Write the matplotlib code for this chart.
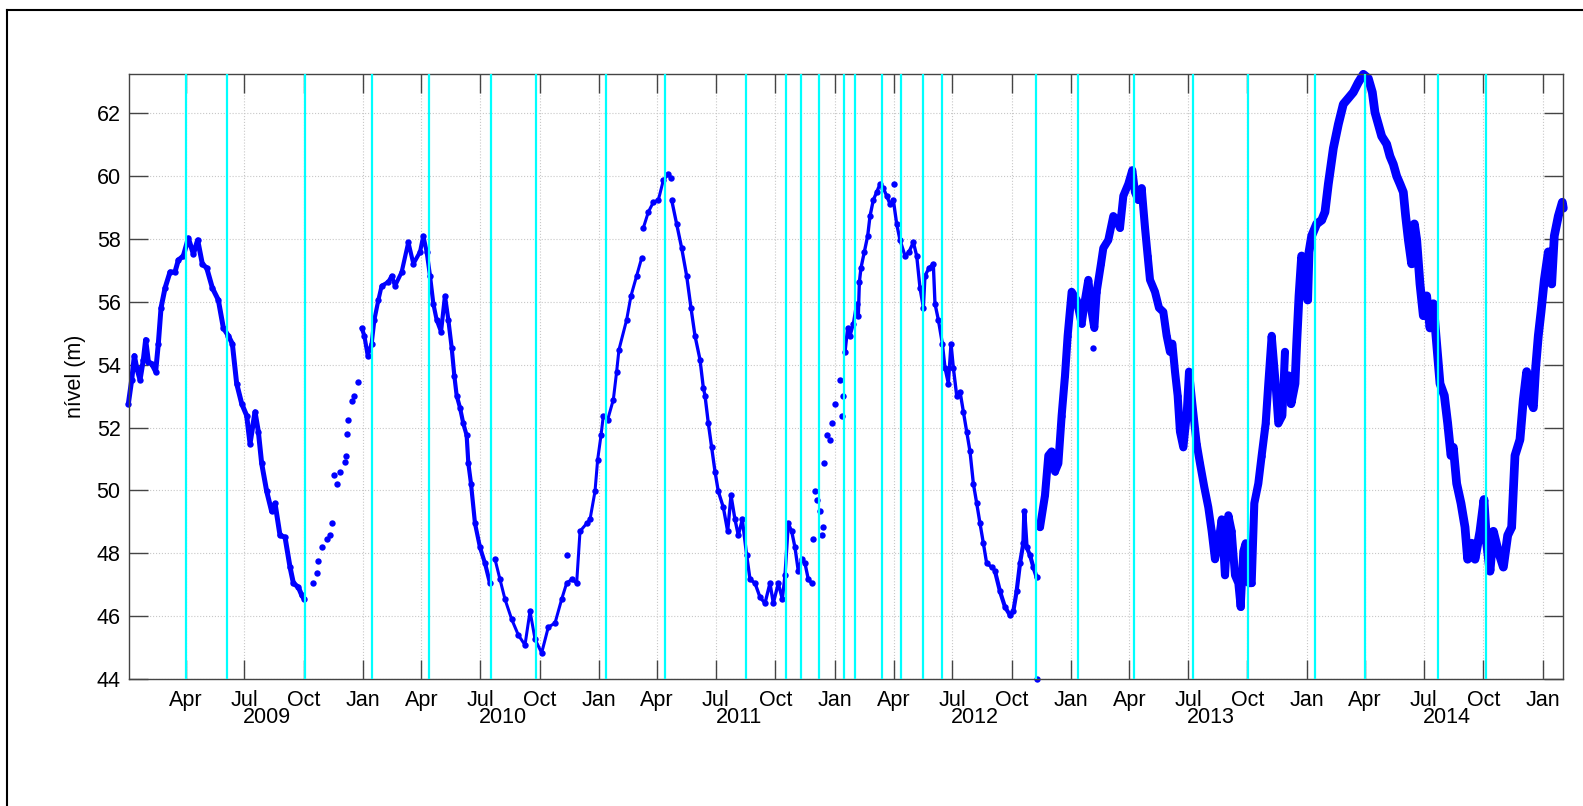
import matplotlib
matplotlib.use('Agg')
import matplotlib.pyplot as plt
import matplotlib.dates as mdates
import pandas as pd
from matplotlib.lines import Line2D

plt.rcParams['font.family'] = ['Liberation Sans', 'DejaVu Sans']

# dias contados a partir de 2009-01-01, nivel em metros
base = pd.Timestamp('2009-01-01')

d_2009a = [1.3, 6.5, 10.6, 14.2, 19.4, 24.5, 28.1, 32.3, 37.4, 43.6, 47.7, 51.9, 58.1, 65.8,
           73.5, 78.7, 86.4, 94.2, 102.0, 108.6, 115.9, 122.6, 131.4, 140.6, 148.4, 156.1,
           162.3, 169.0, 176.8, 184.5, 189.7, 197.4, 202.6, 207.7, 215.5, 223.2, 228.4,
           236.1, 243.9, 251.6, 256.8, 264.5, 269.7, 273.8]
n_2009a = [52.76, 53.52, 54.29, 53.90, 53.52, 54.16, 54.80, 54.10, 54.03, 53.78, 54.67, 55.81,
           56.44, 56.95, 56.95, 57.33, 57.46, 58.03, 57.52, 57.97, 57.20, 57.08, 56.44, 56.06,
           55.17, 54.92, 54.67, 53.40, 52.76, 52.38, 51.49, 52.50, 51.87, 50.86, 49.97, 49.33,
           49.59, 48.57, 48.51, 47.56, 47.05, 46.92, 46.67, 46.54]

d_2009b = [287.7, 292.9, 295.5, 300.6, 308.4, 313.5, 317.2, 320.3, 323.9, 329.0, 336.8, 338.0,
           339.3, 341.9, 347.1, 351.2, 356.4]
n_2009b = [47.05, 47.37, 47.75, 48.19, 48.44, 48.57, 48.95, 50.48, 50.22, 50.60, 50.92, 51.11,
           51.81, 52.25, 52.83, 53.02, 53.46]

d_2010a = [362.6, 366.7, 371.9, 378.0, 382.2, 388.4, 393.5, 403.8, 409.0, 414.2, 424.5, 434.8,
           442.6, 452.9, 458.0, 463.2, 468.3, 473.5, 478.6, 485.4, 491.5, 496.7, 501.9, 506.0,
           509.6, 514.8, 519.9, 525.1, 527.7, 531.8, 538.0, 545.7, 553.5, 561.2]
n_2010a = [55.17, 54.92, 54.29, 54.67, 55.43, 56.06, 56.51, 56.63, 56.83, 56.51, 56.95, 57.90,
           57.21, 57.59, 58.10, 57.59, 56.83, 55.94, 55.43, 55.05, 56.19, 55.43, 54.54, 53.65,
           53.02, 52.63, 52.13, 51.75, 50.86, 50.22, 48.95, 48.19, 47.68, 47.05]

d_2010b = [569.0, 576.7, 584.4, 594.8, 605.1, 615.4, 623.2, 630.9, 641.2, 651.5, 661.9, 672.2,
           679.9, 687.7, 695.4, 700.6, 710.9, 716.1, 723.8, 727.9, 733.1, 736.7, 743.4, 752.2,
           757.3, 760.9, 772.8, 779.5, 788.3, 796.1]
n_2010b = [47.81, 47.17, 46.54, 45.90, 45.40, 45.08, 46.16, 45.27, 44.83, 45.65, 45.78, 46.54,
           47.05, 47.17, 47.05, 48.70, 48.95, 49.08, 49.97, 50.98, 51.75, 52.38, 52.25, 52.89,
           53.78, 54.48, 55.43, 56.19, 56.83, 57.40]

d_2011a = [798.6, 806.4, 814.1, 821.9, 829.6, 837.3, 841.5]
n_2011a = [58.35, 58.86, 59.17, 59.24, 59.87, 60.06, 59.94]

d_2011b = [842.5, 850.2, 858.0, 865.7, 872.4, 878.6, 886.4, 891.5, 894.1, 899.3, 904.4, 909.6,
           914.7, 922.5, 929.2, 934.4, 940.5, 945.7, 951.9, 958.6, 963.8, 971.5, 979.3, 987.0,
           994.7, 999.9, 1007.6, 1013.8, 1018.0, 1023.1, 1028.3, 1033.4, 1038.6, 1043.8,
           1048.9, 1054.1, 1059.3]
n_2011b = [59.24, 58.48, 57.71, 56.83, 55.81, 54.92, 54.16, 53.27, 53.02, 52.13, 51.37, 50.60,
           49.97, 49.46, 48.70, 49.84, 49.08, 48.57, 49.08, 47.94, 47.17, 47.05, 46.60, 46.41,
           47.05, 46.41, 47.05, 46.54, 47.30, 48.95, 48.70, 48.19, 47.43, 47.81, 47.68, 47.17,
           47.05]

# pontos isolados
d_solto = [679.9, 1061.8, 1064.4, 1067.0, 1072.2, 1074.7, 1077.3, 1078.9, 1082.5, 1087.6,
           1090.2, 1095.4, 1103.1, 1105.7, 1108.3, 1187.3, 1494.3, 1407.6]
n_solto = [47.94, 48.44, 49.97, 49.71, 49.33, 48.57, 48.83, 50.86, 51.75, 51.62, 52.13, 52.76,
           53.52, 52.38, 53.02, 59.75, 54.54, 44.00]

d_2012a = [1110.9, 1115.0, 1118.6, 1123.8, 1128.9, 1131.5, 1133.1, 1135.6, 1140.8, 1146.0,
           1149.6, 1154.7, 1159.9, 1165.1, 1170.2, 1175.4, 1180.6, 1185.7, 1190.9, 1196.0,
           1203.8, 1210.0, 1216.7, 1221.9, 1227.0, 1232.2, 1234.7, 1241.0, 1247.6, 1250.2,
           1255.4, 1261.6, 1265.7, 1270.9, 1275.0, 1278.6, 1283.8, 1289.0, 1294.1, 1299.3,
           1304.4, 1309.6, 1314.8, 1319.9, 1325.1, 1330.2, 1338.0]
n_2012a = [54.41, 55.17, 54.92, 55.30, 55.94, 55.56, 56.63, 57.08, 57.59, 58.10, 58.73, 59.24,
           59.49, 59.75, 59.62, 59.37, 59.11, 59.24, 58.48, 57.97, 57.46, 57.59, 57.90, 57.46,
           56.44, 55.81, 56.83, 57.08, 57.21, 55.94, 55.43, 54.67, 53.90, 53.40, 54.67, 53.90,
           53.02, 53.14, 52.51, 51.87, 51.24, 50.22, 49.59, 48.95, 48.32, 47.68, 47.56]

d_2012b = [1343.1, 1350.8, 1358.6, 1366.3, 1371.5, 1376.6, 1381.8, 1387.0, 1388.5, 1392.1,
           1397.3, 1402.5, 1407.6]
n_2012b = [47.43, 46.79, 46.29, 46.03, 46.16, 46.79, 47.68, 48.32, 49.33, 48.19, 47.94, 47.56,
           47.24]

d_2013 = [1412.8, 1420.5, 1425.7, 1430.8, 1436.0, 1441.2, 1446.3, 1451.5, 1455.6, 1461.8,
          1469.5, 1477.3, 1482.4, 1487.6, 1492.8, 1496.9, 1500.5, 1507.2, 1510.8, 1518.6,
          1526.3, 1531.5, 1536.6, 1541.8, 1549.5, 1555.7, 1559.8, 1565.0, 1570.2, 1572.8,
          1575.4, 1579.5, 1583.1, 1590.8, 1597.0, 1603.7, 1608.9, 1614.0, 1617.7, 1621.8,
          1625.9, 1629.5, 1634.7, 1639.8, 1643.5, 1648.6, 1655.3, 1660.5, 1667.2, 1673.4,
          1678.6, 1683.7, 1688.9, 1694.1, 1699.2, 1704.4, 1709.5, 1714.7, 1719.9, 1723.5,
          1727.6, 1731.3, 1736.4, 1740.5, 1744.6, 1750.8, 1756.0, 1762.2, 1766.3, 1771.5,
          1776.6, 1781.8, 1788.0, 1792.1]
n_2013 = [48.83, 49.84, 51.11, 51.24, 50.60, 50.86, 52.38, 53.65, 54.92, 56.32, 56.06, 55.30,
          56.06, 56.70, 55.68, 55.17, 56.32, 57.21, 57.71, 57.97, 58.73, 58.60, 58.35, 59.37,
          59.75, 60.19, 59.49, 59.24, 59.62, 58.98, 58.35, 57.46, 56.70, 56.32, 55.81, 55.68,
          54.92, 54.41, 54.67, 53.78, 53.02, 51.87, 51.37, 52.38, 53.78, 52.76, 51.49, 50.86,
          50.10, 49.46, 48.70, 47.81, 48.32, 49.08, 47.30, 49.21, 48.70, 47.30, 47.05, 46.29,
          48.06, 48.32, 47.05, 47.05, 49.59, 50.22, 51.11, 52.13, 53.40, 54.92, 53.65, 52.13,
          52.38, 54.41]

d_2014 = [1797.3, 1801.4, 1807.6, 1810.2, 1813.8, 1817.9, 1823.1, 1827.2, 1829.3, 1833.4,
          1841.1, 1848.9, 1854.0, 1859.2, 1867.0, 1874.7, 1882.4, 1890.2, 1897.9, 1905.6,
          1913.4, 1921.1, 1927.3, 1931.4, 1936.6, 1941.8, 1949.5, 1954.7, 1959.8, 1965.0,
          1970.2, 1975.3, 1978.9, 1983.1, 1988.2, 1992.4, 1996.0, 2001.1, 2006.3, 2011.4,
          2016.6, 2021.8, 2026.9, 2032.1, 2038.8, 2044.0, 2049.1, 2052.7, 2057.9, 2064.6,
          2070.8, 2074.9, 2081.1, 2086.3, 2094.0, 2100.2, 2104.3, 2109.5, 2114.7, 2122.4,
          2130.2, 2136.9, 2143.0, 2148.2, 2155.9, 2161.1, 2166.3, 2171.4, 2176.6, 2180.2,
          2184.3, 2188.5, 2193.6, 2199.8, 2205.0, 2209.1, 2215.3, 2221.5, 2223.0]
n_2014 = [53.65, 52.76, 53.40, 54.67, 56.19, 57.46, 57.08, 56.06, 57.59, 58.10, 58.48, 58.60,
          58.86, 59.75, 60.89, 61.65, 62.29, 62.48, 62.67, 62.98, 63.24, 63.11, 62.67, 62.03,
          61.65, 61.27, 61.02, 60.63, 60.38, 60.00, 59.75, 59.49, 58.73, 57.97, 57.21, 58.48,
          57.97, 56.57, 55.56, 56.19, 55.17, 55.94, 54.67, 53.40, 53.02, 52.13, 51.11, 51.37,
          50.22, 49.59, 48.83, 47.81, 48.32, 47.81, 48.70, 49.71, 48.32, 47.43, 48.70, 48.06,
          47.56, 48.57, 48.83, 51.11, 51.62, 52.89, 53.78, 52.89, 52.63, 53.90, 54.92, 55.68,
          56.70, 57.59, 56.57, 58.10, 58.73, 59.17, 58.98]

# linhas verticais (eventos)
eventos = ['2009-04-01', '2009-06-04', '2009-10-03', '2010-01-15', '2010-04-13', '2010-07-18',
           '2010-09-25', '2011-01-12', '2011-04-13', '2011-08-17', '2011-10-18', '2011-11-09',
           '2011-12-07', '2012-01-16', '2012-02-02', '2012-03-14', '2012-04-13', '2012-05-17',
           '2012-06-15', '2012-11-08', '2013-01-11', '2013-04-09', '2013-07-09', '2013-10-02',
           '2014-01-14', '2014-04-01', '2014-07-23', '2014-10-06']

anos = [2009, 2010, 2011, 2012, 2013, 2014]


def datas(dias):
    return base + pd.to_timedelta(dias, unit='D')


W, H = 1583, 806
fig = plt.figure(figsize=(W / 100, H / 100), dpi=100)
ax = fig.add_axes([129 / W, 1 - 679 / H, (1563.3 - 129) / W, (679 - 74) / H])

azul = '#0000ff'
# (dias, niveis, espessura da linha; 0 = so pontos)
series = [(d_2009a, n_2009a, 3.6), (d_2009b, n_2009b, 0), (d_2010a, n_2010a, 3.0),
          (d_2010b, n_2010b, 2.2), (d_2011a, n_2011a, 2.2), (d_2011b, n_2011b, 2.4),
          (d_2012a, n_2012a, 2.4), (d_2012b, n_2012b, 3.0), (d_2013, n_2013, 5.8),
          (d_2014, n_2014, 6.3), (d_solto, n_solto, 0)]
for dd, nn, lw in series:
    ax.plot(datas(dd), nn, linestyle='-' if lw else 'none', lw=lw, color=azul,
            marker='o', ms=4.6, mew=0, solid_capstyle='round', solid_joinstyle='round',
            zorder=2, clip_on=False)

for e in eventos:
    ax.axvline(pd.Timestamp(e), color='#00ffff', lw=1.6, zorder=3)

ax.set_xlim(base + pd.Timedelta(days=2.3), base + pd.Timedelta(days=2223))
ax.set_ylim(44, 63.25)
ax.set_yticks(range(44, 63, 2))
ax.set_xticks(pd.date_range('2009-04-01', '2015-01-01', freq='QS-JAN'))
ax.xaxis.set_major_formatter(mdates.DateFormatter('%b'))

ax.grid(True, linestyle=':', color='#c8c8c8', lw=0.8, zorder=0)
ax.set_axisbelow(True)
for s in ax.spines.values():
    s.set_color('#444444')
    s.set_linewidth(1.0)
ax.tick_params(direction='in', length=14, width=1, color='#444444', top=True, right=True,
               labelsize=15.5, labelcolor='black')
ax.tick_params(axis='x', pad=8)
ax.tick_params(axis='y', pad=6)

# ano sob os meses (sobreposto como no original)
for a in anos:
    ax.text(pd.Timestamp(a, 8, 5), -0.063, str(a), transform=ax.get_xaxis_transform(),
            ha='center', va='center', fontsize=15.5)

ax.text(-0.0372, 0.5, 'nível (m)', transform=ax.transAxes, rotation=90,
        ha='center', va='center', fontsize=15.5)

# moldura da figura (so topo e esquerda visiveis)
fig.add_artist(Line2D([7 / W, 7 / W], [0, 1 - 10 / H], color='black', lw=1.5,
                      transform=fig.transFigure))
fig.add_artist(Line2D([7 / W, 1], [1 - 10 / H, 1 - 10 / H], color='black', lw=1.5,
                      transform=fig.transFigure))

fig.savefig('out.png', dpi=100)
